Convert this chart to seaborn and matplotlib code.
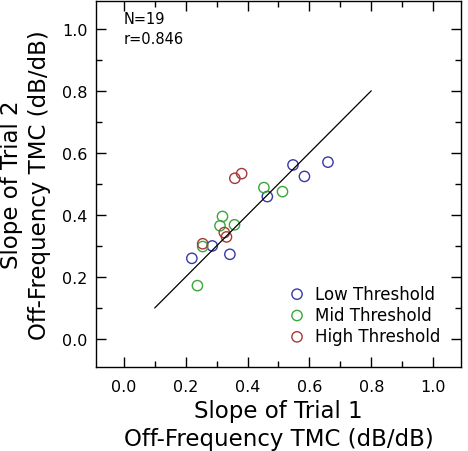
"""
Trial 1 vs Trial 2 off-frequency TMC slopes, grouped by threshold.
"""
import numpy as np
import pandas as pd
import matplotlib
matplotlib.use("Agg")
import matplotlib.pyplot as plt
import seaborn as sns

# ---------------- Data ----------------
low_x = [0.22, 0.286, 0.343, 0.464, 0.547, 0.584, 0.660]
low_y = [0.26, 0.300, 0.273, 0.459, 0.561, 0.524, 0.570]
mid_x = [0.238, 0.255, 0.311, 0.319, 0.358, 0.453, 0.513]
mid_y = [0.172, 0.298, 0.365, 0.395, 0.368, 0.488, 0.475]
high_x = [0.255, 0.325, 0.332, 0.359, 0.381]
high_y = [0.307, 0.343, 0.329, 0.518, 0.533]

groups = ["Low Threshold", "Mid Threshold", "High Threshold"]
colors = {"Low Threshold": "#3838a8", "Mid Threshold": "#38a838", "High Threshold": "#a83838"}

fit_x = [0.1, 0.8]
fit_y = [0.1, 0.8]

n_subjects = 19
r_value = 0.846

df = pd.concat([
    pd.DataFrame({"trial1": low_x, "trial2": low_y, "group": groups[0]}),
    pd.DataFrame({"trial1": mid_x, "trial2": mid_y, "group": groups[1]}),
    pd.DataFrame({"trial1": high_x, "trial2": high_y, "group": groups[2]}),
], ignore_index=True)

# ---------------- Plot ----------------
sns.set_theme(style="ticks")
plt.rcParams["font.family"] = ["DejaVu Sans"]
plt.rcParams.update({"text.color": "black", "axes.labelcolor": "black",
                     "xtick.color": "black", "ytick.color": "black"})

fig = plt.figure(figsize=(4.68, 4.52), dpi=100)
ax = fig.add_axes([0.205, 0.186, 0.78, 0.81])

sns.lineplot(x=fit_x, y=fit_y, ax=ax, color="black", linewidth=0.9)

for grp in groups:
    sub = df[df["group"] == grp]
    sns.scatterplot(data=sub, x="trial1", y="trial2", ax=ax, s=55,
                    facecolors="none", edgecolor=colors[grp], linewidth=1.0,
                    label=grp)

ax.set_xlim(-0.09, 1.09)
ax.set_ylim(-0.09, 1.09)
ticks = np.arange(0, 1.01, 0.2)
ax.set_xticks(ticks)
ax.set_yticks(ticks)
ax.set_xticks(np.arange(0.1, 1.0, 0.2), minor=True)
ax.set_yticks(np.arange(0.1, 1.0, 0.2), minor=True)
ax.set_xticklabels([f"{t:.1f}" for t in ticks])
ax.set_yticklabels([f"{t:.1f}" for t in ticks])

ax.tick_params(which="both", direction="in", top=True, right=True,
               colors="black", labelsize=11.5)
ax.tick_params(which="major", length=7, width=1)
ax.tick_params(which="minor", length=4, width=1)
ax.tick_params(axis="x", pad=9)
ax.tick_params(axis="y", pad=6)
for sp in ax.spines.values():
    sp.set_visible(True)
    sp.set_linewidth(1)
    sp.set_color("black")

ax.set_xlabel("Slope of Trial 1\nOff-Frequency TMC (dB/dB)", fontsize=16.5,
              labelpad=3, linespacing=1.3)
ax.set_ylabel("Slope of Trial 2\nOff-Frequency TMC (dB/dB)", fontsize=16.5,
              labelpad=8, linespacing=1.25)

ax.text(0.0, 1.0, f"N={n_subjects}\nr={r_value:.3f}", fontsize=10.5,
        va="center", ha="left", linespacing=1.4)

ax.legend(loc="upper left", bbox_to_anchor=(0.528, 0.225), frameon=False,
          fontsize=12, handletextpad=0.55, borderpad=0, borderaxespad=0,
          labelspacing=0.2, handlelength=1.0)

fig.savefig("out.png", dpi=100)
plt.close(fig)
